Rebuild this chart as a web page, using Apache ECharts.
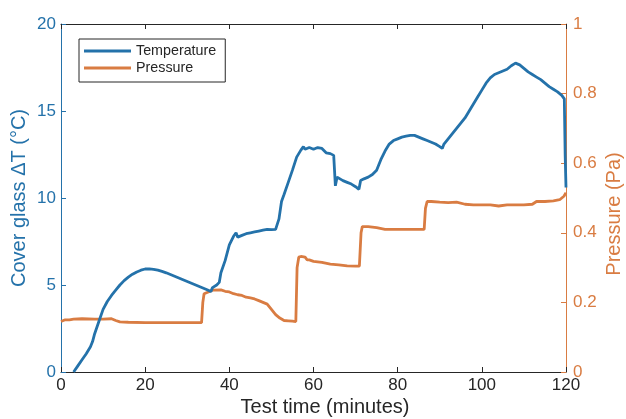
<!DOCTYPE html>
<html>
<head>
<meta charset="utf-8">
<script src="https://cdn.jsdelivr.net/npm/echarts@6/dist/echarts.min.js"></script>
<style>html,body{margin:0;padding:0;background:#fff}#c{width:626px;height:419px}</style>
</head>
<body>
<div id="c"></div>
<script>
var xTicks = [0, 20, 40, 60, 80, 100, 120];
var leftTicks = [0, 5, 10, 15, 20];
var rightTicks = [0, 0.2, 0.4, 0.6, 0.8, 1];

var temperature = [
[3,0],[4,0.35],[5,0.7],[6,1.05],[7,1.45],[7.5,1.75],[8,2.2],[9,2.9],[10,3.6],[11,4.05],[12,4.4],[13,4.7],[14,5.0],[15,5.25],[16,5.45],[17,5.62],[18,5.75],[19,5.85],[20,5.92],[21,5.93],[22,5.9],[23,5.85],[24,5.78],[25,5.7],[26,5.6],[27,5.5],[28,5.4],[29,5.3],[30,5.2],[31,5.1],[32,5.0],[33,4.9],[34,4.8],[35,4.7],[35.6,4.62],[36,4.85],[37,5.0],[37.6,5.15],[38,5.7],[39,6.4],[40,7.3],[41,7.8],[41.6,8.0],[42,7.75],[43,7.85],[44,7.95],[45,8.0],[46,8.05],[47,8.1],[48,8.15],[49,8.2],[50,8.18],[51,8.2],[51.4,8.2],[51.8,8.8],[52.4,9.8],[53,10.2],[54,10.9],[55,11.6],[56,12.35],[57,12.75],[57.6,12.95],[58,12.8],[59,12.9],[60,12.8],[61,12.9],[62,12.85],[63,12.6],[64,12.55],[64.8,12.45],[65.2,10.7],[65.6,11.2],[66,11.1],[67,11.0],[68,10.9],[69,10.8],[70,10.65],[70.8,10.5],[71.2,11.0],[72,11.1],[73,11.2],[74,11.35],[75,11.6],[76,12.2],[77,12.7],[78,13.1],[79,13.3],[80,13.4],[81,13.5],[82,13.55],[83,13.6],[84,13.6],[85,13.5],[86,13.4],[87,13.3],[88,13.2],[89,13.1],[90,12.95],[90.6,12.85],[91,13.1],[92,13.4],[93,13.7],[94,14.0],[95,14.3],[96,14.6],[97,15.0],[98,15.4],[99,15.8],[100,16.2],[101,16.6],[102,16.9],[103,17.1],[104,17.2],[105,17.3],[106,17.4],[107,17.6],[108,17.75],[109,17.65],[110,17.45],[111,17.25],[112,17.1],[113,16.95],[114,16.8],[115,16.6],[116,16.4],[117,16.25],[118,16.1],[119,15.9],[119.6,15.7],[119.8,12.5],[120,10.6]
];

var pressure = [
[0,0.145],[1,0.15],[2,0.15],[3,0.152],[5,0.153],[8,0.152],[10,0.152],[12,0.153],[13,0.148],[14,0.144],[16,0.143],[20,0.142],[25,0.142],[30,0.142],[33.4,0.142],[33.7,0.2],[34,0.225],[35,0.23],[36,0.235],[38,0.236],[39,0.232],[40,0.23],[41,0.225],[42,0.222],[43,0.22],[44,0.215],[45,0.213],[46,0.21],[47,0.205],[48,0.2],[49,0.195],[50,0.18],[51,0.165],[52,0.155],[53,0.148],[54,0.147],[55,0.146],[55.8,0.145],[56.1,0.3],[56.5,0.33],[57,0.332],[58,0.33],[58.5,0.322],[59,0.322],[60,0.318],[62,0.315],[64,0.31],[66,0.308],[68,0.305],[70,0.304],[70.9,0.304],[71.3,0.4],[71.6,0.418],[73,0.418],[75,0.415],[77,0.41],[80,0.41],[83,0.41],[86.3,0.41],[86.6,0.47],[87,0.49],[88,0.49],[90,0.488],[92,0.487],[94,0.488],[96,0.482],[98,0.48],[100,0.48],[102,0.48],[104,0.477],[106,0.48],[108,0.48],[110,0.48],[112,0.482],[113,0.49],[115,0.49],[117,0.492],[118.5,0.495],[119.5,0.505],[120,0.515]
];

var BLUE = '#2472aa';
var ORANGE = '#d97c42';
var DARK = '#262626';
var FONT = '"Liberation Sans", Arial, Helvetica, sans-serif';

var chart = echarts.init(document.getElementById('c'), null, {renderer: 'canvas'});
var xAx = function (pos, showLabel) {
  return {
    type: 'value', gridIndex: 0, position: pos, min: xTicks[0], max: xTicks[xTicks.length - 1],
    interval: xTicks[1] - xTicks[0],
    axisLine: {show: true, onZero: false, lineStyle: {color: DARK, width: 1}},
    axisTick: {show: true, inside: true, length: 5, lineStyle: {color: DARK}},
    axisLabel: {show: showLabel, color: DARK, fontSize: 17, fontFamily: FONT, margin: 5},
    splitLine: {show: false}
  };
};
chart.setOption({
  animation: false,
  backgroundColor: '#fff',
  grid: {left: 61, right: 60, top: 24, bottom: 47, containLabel: false},
  legend: {
    show: true, orient: 'vertical', left: 79, top: 39,
    padding: [5, 9, 7, 5], itemGap: 3, itemWidth: 47, itemHeight: 3,
    borderColor: DARK, borderWidth: 1, backgroundColor: '#fff',
    icon: 'rect',
    textStyle: {fontSize: 14.3, color: DARK, fontFamily: FONT},
    data: ['Temperature', 'Pressure']
  },
  xAxis: [xAx('bottom', true), xAx('top', false)],
  yAxis: [
    {
      type: 'value', gridIndex: 0, position: 'left', min: leftTicks[0], max: leftTicks[leftTicks.length - 1],
      interval: leftTicks[1] - leftTicks[0],
      axisLine: {show: true, onZero: false, lineStyle: {color: BLUE, width: 1}},
      axisTick: {show: true, inside: true, length: 5, lineStyle: {color: BLUE}},
      axisLabel: {color: BLUE, fontSize: 17, fontFamily: FONT, margin: 5},
      splitLine: {show: false}
    },
    {
      type: 'value', gridIndex: 0, position: 'right', min: rightTicks[0], max: rightTicks[rightTicks.length - 1],
      interval: 0.2,
      axisLine: {show: true, onZero: false, lineStyle: {color: ORANGE, width: 1}},
      axisTick: {show: true, inside: true, length: 5, lineStyle: {color: ORANGE}},
      axisLabel: {color: ORANGE, fontSize: 17, fontFamily: FONT, margin: 7,
        formatter: function (v) { return String(Math.round(v * 10) / 10); }},
      splitLine: {show: false}
    }
  ],
  series: [
    {name: 'Temperature', type: 'line', xAxisIndex: 0, yAxisIndex: 0, data: temperature,
     showSymbol: false, symbol: 'none', lineStyle: {color: BLUE, width: 2.8}, itemStyle: {color: BLUE}, z: 3},
    {name: 'Pressure', type: 'line', xAxisIndex: 0, yAxisIndex: 1, data: pressure,
     showSymbol: false, symbol: 'none', lineStyle: {color: ORANGE, width: 2.8}, itemStyle: {color: ORANGE}, z: 2},
    {name: 'topaxis', type: 'line', xAxisIndex: 1, yAxisIndex: 1, data: [], showSymbol: false, silent: true}
  ],
  graphic: [
    {type: 'text', x: 325, y: 407, style: {text: 'Test time (minutes)', fill: DARK, font: '20px ' + FONT, textAlign: 'center', textVerticalAlign: 'middle'}},
    {type: 'text', x: 19, y: 198, rotation: Math.PI / 2, style: {text: 'Cover glass ΔT (°C)', fill: BLUE, font: '20px ' + FONT, textAlign: 'center', textVerticalAlign: 'middle'}},
    {type: 'text', x: 614, y: 214, rotation: Math.PI / 2, style: {text: 'Pressure (Pa)', fill: ORANGE, font: '20px ' + FONT, textAlign: 'center', textVerticalAlign: 'middle'}}
  ]
});
</script>
</body>
</html>
